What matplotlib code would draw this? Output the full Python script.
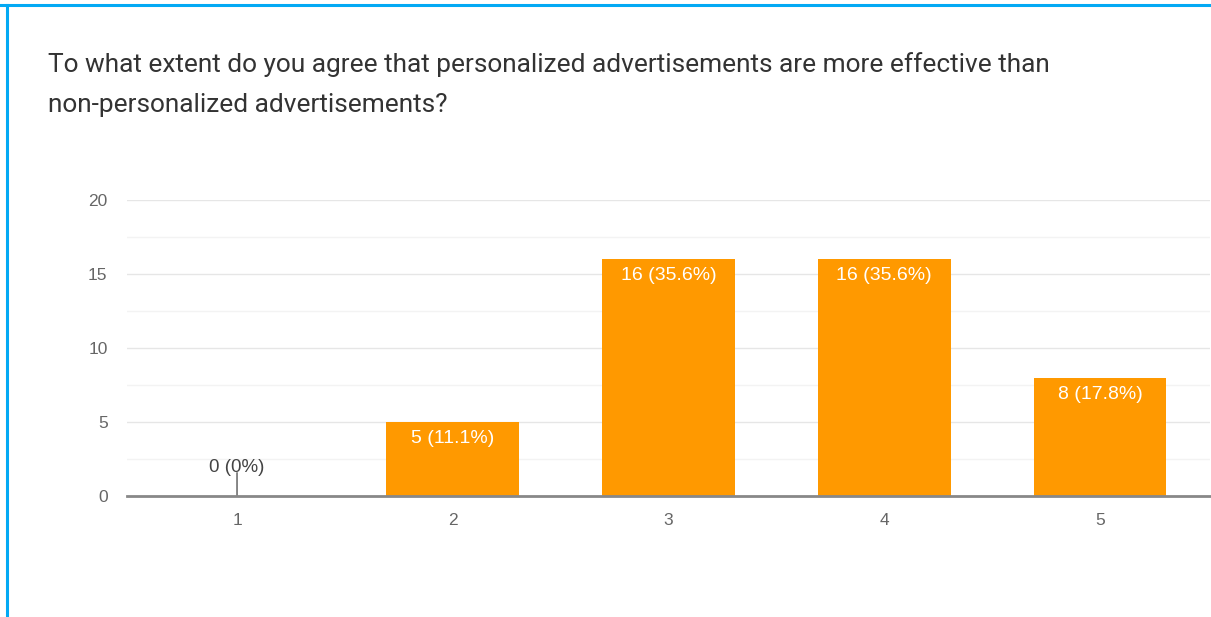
import matplotlib
matplotlib.use("Agg")
import matplotlib.pyplot as plt
from matplotlib.lines import Line2D

plt.rcParams['font.family'] = ['Liberation Sans', 'DejaVu Sans']

# Survey responses
categories = ["1", "2", "3", "4", "5"]
counts = [0, 5, 16, 16, 8]
percent_labels = ["0%", "11.1%", "35.6%", "35.6%", "17.8%"]
y_ticks = [0, 5, 10, 15, 20]
title_lines = ["To what extent do you agree that personalized advertisements are more effective than",
               "non-personalized advertisements?"]

W, H = 1211, 617
fig = plt.figure(figsize=(W / 100, H / 100), dpi=100)
fig.patch.set_facecolor("white")

# Card frame (top and left edges visible)
blue = "#03a9f4"
fig.add_artist(Line2D([0, 1], [1 - 5 / H, 1 - 5 / H], transform=fig.transFigure,
                      color=blue, lw=2.2))
fig.add_artist(Line2D([7 / W, 7 / W], [0, 1 - 5 / H], transform=fig.transFigure,
                      color=blue, lw=2.2))

for i, line in enumerate(title_lines):
    fig.text(48 / W, 1 - (72 + 40 * i) / H, line, ha="left", va="baseline",
             fontsize=18.9, color="#333333", family=["Roboto", "DejaVu Sans"])

left, right = 127 / W, 1210 / W
bottom, top = 1 - 496 / H, 1 - 200 / H
ax = fig.add_axes([left, bottom, right - left, top - bottom])

x = list(range(1, len(categories) + 1))
ax.bar(x, counts, width=0.615, color="#ff9900", zorder=3)

ax.set_xlim(0.49, 5.51)
ax.set_ylim(0, 20)
ax.set_yticks(y_ticks)
ax.set_yticks([2.5, 7.5, 12.5, 17.5], minor=True)
ax.set_xticks(x)
ax.set_xticklabels(categories)

ax.grid(axis="y", which="major", color="#e6e6e6", lw=1.0, zorder=0)
ax.grid(axis="y", which="minor", color="#f3f3f3", lw=1.0, zorder=0)

for s in ["top", "right", "left"]:
    ax.spines[s].set_visible(False)
ax.spines["bottom"].set_color("#888888")
ax.spines["bottom"].set_linewidth(2.0)
ax.spines["bottom"].set_zorder(4)

ax.tick_params(axis="both", which="both", length=0, labelsize=12.5, labelcolor="#666666")
ax.tick_params(axis="y", pad=14)
ax.tick_params(axis="x", pad=12)

for xi, c, p in zip(x, counts, percent_labels):
    label = f"{c} ({p})"
    if c == 0:
        ax.annotate(label, xy=(xi, 0), xytext=(xi, 1.95), ha="center", va="center",
                    fontsize=13.5, color="#444444",
                    arrowprops=dict(arrowstyle="-", color="#555555", lw=1.0,
                                    patchA=None, shrinkA=4, shrinkB=0))
    else:
        ax.annotate(label, xy=(xi, c), xytext=(0, -12), textcoords="offset points",
                    ha="center", va="center", fontsize=14, color="white", zorder=5)

fig.savefig("out.png", dpi=100, facecolor="white")
